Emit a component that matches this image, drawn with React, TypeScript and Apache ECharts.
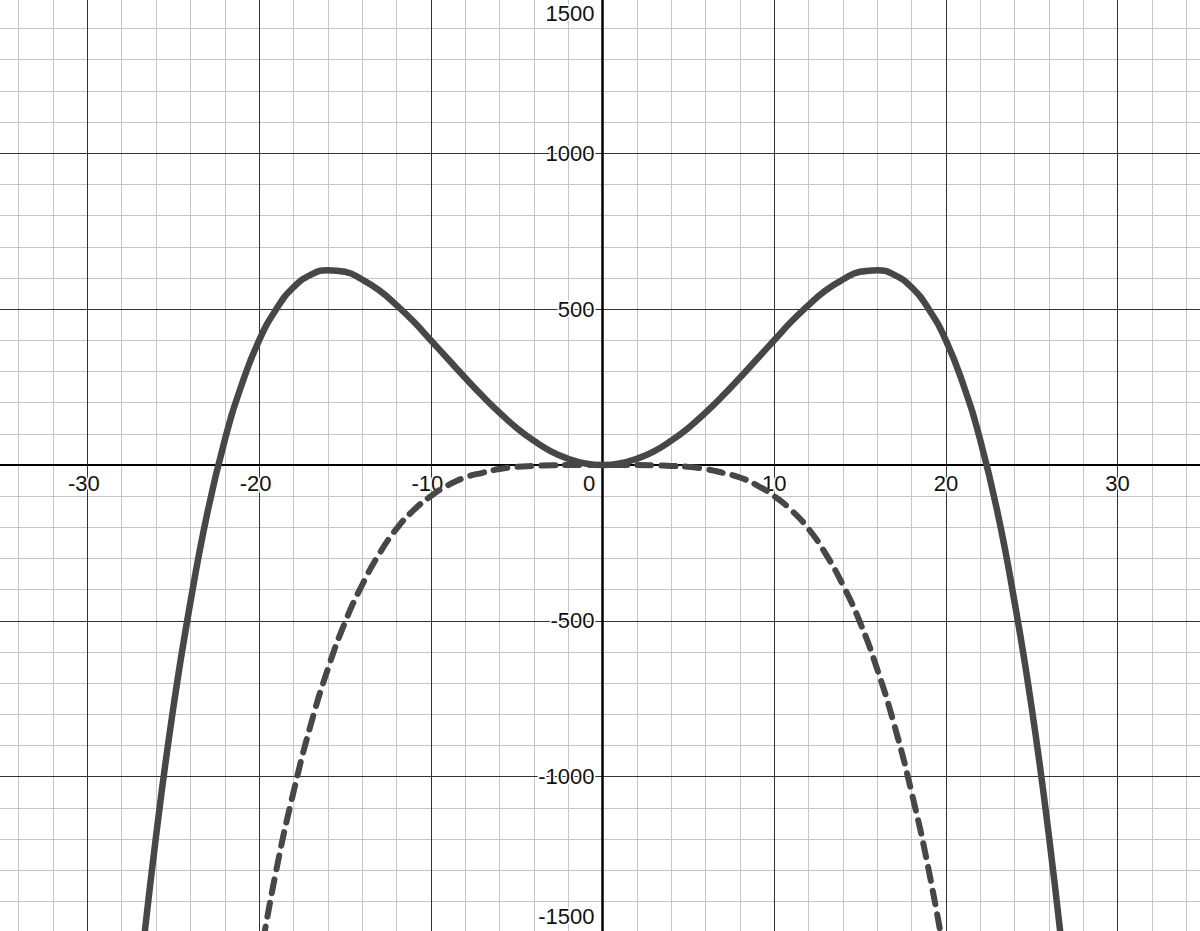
import React, { useEffect, useRef } from "react";
import * as echarts from "echarts";

// Values
const solidX = [
  -27, -26, -25, -24, -23, -22, -21, -20, -19, -18, -17, -16, -15, -14, -13, -12, -11, -10, -9, -8, -7, -6, -5, -4, -3, -2, -1,
  0, 1, 2, 3, 4, 5, 6, 7, 8, 9, 10, 11, 12, 13, 14, 15, 16, 17, 18, 19, 20, 21, 22, 23, 24, 25, 26, 27,
];
const solidY = [
  -1670, -1190, -780, -440, -150, 80, 260, 400, 500, 570, 610, 625, 620, 595, 560, 513, 460, 400, 340, 280, 222, 168, 119, 78, 44, 20, 5,
  0, 5, 20, 44, 78, 119, 168, 222, 280, 340, 400, 460, 513, 560, 595, 620, 625, 610, 570, 500, 400, 260, 80, -150, -440, -780, -1190, -1670,
];
const dashedX = [
  -20, -19, -18, -17, -16, -15, -14, -13, -12, -11, -10, -9, -8, -7, -6, -5, -4, -3, -2, -1,
  0, 1, 2, 3, 4, 5, 6, 7, 8, 9, 10, 11, 12, 13, 14, 15, 16, 17, 18, 19, 20,
];
const dashedY = [
  -1600, -1300, -1050, -835, -655, -505, -385, -285, -205, -145, -100, -65, -40, -25, -13, -6, -3, -1, 0, 0,
  0, 0, 0, -1, -3, -6, -13, -25, -40, -65, -100, -145, -205, -285, -385, -505, -655, -835, -1050, -1300, -1600,
];
const xRange = [-40, 40];
const yRange = [-1500, 1500];
const xLabelLimit = 30;

const FONT = "'Liberation Sans', Arial, sans-serif";
const CURVE = "#474747";

// layout (pixels)
const GRID_LEFT = -84.3;
const GRID_RIGHT = -89.3;
const GRID_TOP = -2.6;
const GRID_BOTTOM = -1.6;
const ORIGIN_X = 602.5;
const ORIGIN_Y = 465;
const H = 931;

export default function App() {
  const ref = useRef<HTMLDivElement>(null);
  useEffect(() => {
    if (!ref.current) return;
    const chart = echarts.init(ref.current, null, { renderer: "svg" });
    const txt = {
      fontSize: 22,
      fontFamily: FONT,
      color: "#111",
      textBorderColor: "#fff",
      textBorderWidth: 3,
    };
    chart.setOption({
      animation: false,
      backgroundColor: "#fff",
      grid: {
        left: GRID_LEFT,
        right: GRID_RIGHT,
        top: GRID_TOP,
        bottom: GRID_BOTTOM,
        containLabel: false,
        outerBoundsMode: "none",
      },
      xAxis: [
        {
          type: "value",
          min: xRange[0],
          max: xRange[1],
          interval: 10,
          position: "bottom",
          offset: -(H - GRID_BOTTOM - ORIGIN_Y),
          z: 3,
          axisLine: { show: true, onZero: false, lineStyle: { color: "#000", width: 2 } },
          axisTick: { show: false },
          splitLine: { show: true, lineStyle: { color: "#333", width: 1 } },
          axisLabel: {
            show: true,
            margin: 7,
            showMinLabel: false,
            showMaxLabel: false,
            ...txt,
            formatter: (v: number) => {
              if (Math.abs(v) > xLabelLimit) return "";
              if (v === 0) return "{z|0}";
              if (v < 0) return "{n|" + v + "}";
              return "{p|" + v + "}";
            },
            rich: {
              z: { ...txt, padding: [0, 27, 0, 0] },
              n: { ...txt, padding: [0, 7, 0, 0] },
              p: { ...txt },
            },
          },
        },
        {
          type: "value",
          min: xRange[0],
          max: xRange[1],
          interval: 2,
          position: "top",
          z: 1,
          axisLine: { show: false, onZero: false },
          axisTick: { show: false },
          axisLabel: { show: false },
          splitLine: { show: true, lineStyle: { color: "#c6c6c6", width: 1 } },
        },
      ],
      yAxis: [
        {
          type: "value",
          min: yRange[0],
          max: yRange[1],
          interval: 500,
          position: "left",
          offset: -(ORIGIN_X - GRID_LEFT),
          z: 3,
          axisLine: { show: true, onZero: false, lineStyle: { color: "#000", width: 2.5 } },
          axisTick: { show: false },
          splitLine: { show: true, lineStyle: { color: "#333", width: 1 } },
          axisLabel: {
            show: true,
            margin: 8,
            showMinLabel: true,
            showMaxLabel: true,
            ...txt,
            formatter: (v: number) => {
              if (v === 0) return "";
              if (v === yRange[1]) return "{t|" + v + "}";
              if (v === yRange[0]) return "{b|" + v + "}";
              return "{p|" + v + "}";
            },
            rich: {
              t: { ...txt, padding: [32, 0, 0, 0] },
              b: { ...txt, padding: [0, 0, 33, 0] },
              p: { ...txt },
            },
          },
        },
        {
          type: "value",
          min: yRange[0],
          max: yRange[1],
          interval: 100,
          position: "right",
          z: 1,
          axisLine: { show: false, onZero: false },
          axisTick: { show: false },
          axisLabel: { show: false },
          splitLine: { show: true, lineStyle: { color: "#c6c6c6", width: 1 } },
        },
      ],
      series: [
        {
          type: "line",
          xAxisIndex: 0,
          yAxisIndex: 0,
          z: 10,
          data: solidX.map((x, i) => [x, solidY[i]]),
          smooth: 0.5,
          showSymbol: false,
          symbol: "none",
          lineStyle: { color: CURVE, width: 6.5 },
        },
        {
          type: "line",
          xAxisIndex: 0,
          yAxisIndex: 0,
          z: 10,
          data: dashedX.map((x, i) => [x, dashedY[i]]),
          smooth: 0.5,
          showSymbol: false,
          symbol: "none",
          lineStyle: { color: CURVE, width: 6, type: [14, 10], cap: "round" },
        },
      ],
    });
    return () => chart.dispose();
  }, []);
  return (
    <div
      ref={ref}
      style={{ position: "absolute", left: 0, top: 0, width: 1200, height: 931 }}
    />
  );
}
